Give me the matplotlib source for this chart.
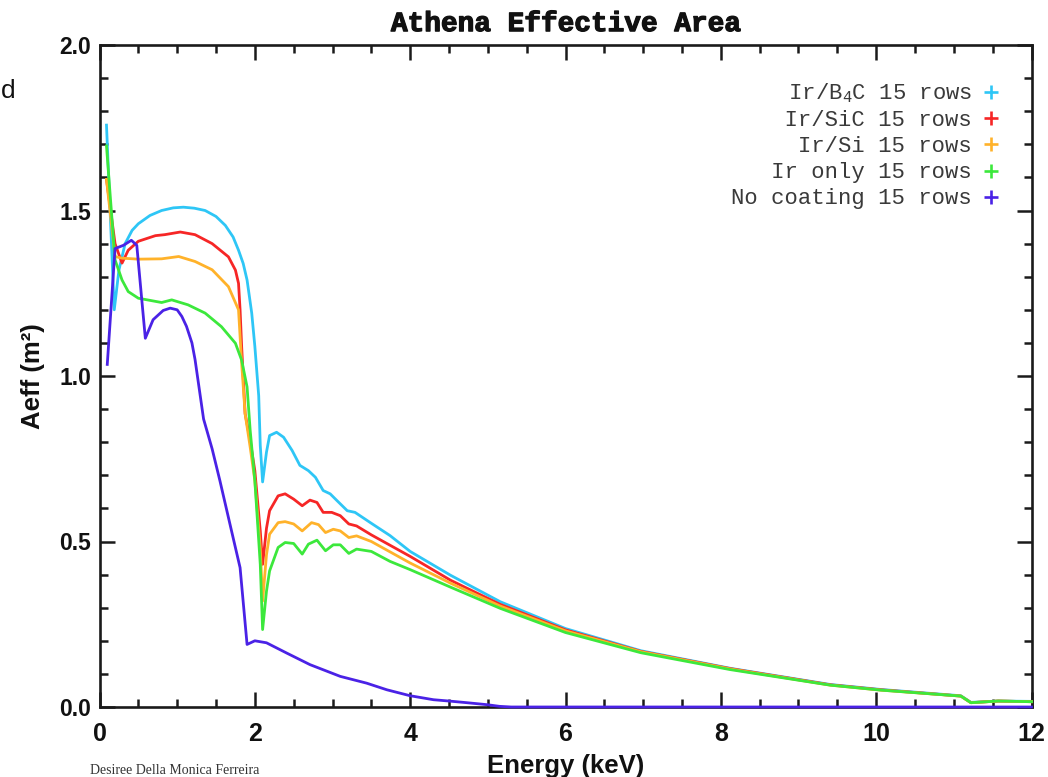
import matplotlib
matplotlib.use('Agg')
import matplotlib.pyplot as plt
import matplotlib.patheffects as pe
from matplotlib.ticker import MultipleLocator, FormatStrFormatter
from matplotlib.lines import Line2D

# ---------------- data ----------------
title = "Athena Effective Area"
xlabel = "Energy (keV)"
ylabel = "Aeff (m²)"
series_labels = ["Ir/B$_{\\mathregular{4}}$C 15 rows", "Ir/SiC 15 rows", "Ir/Si 15 rows",
                 "Ir only 15 rows", "No coating 15 rows"]
series_colors = ["#2ec6f6", "#f62626", "#ffb22a", "#3ce83c", "#4a22e6"]

e_b4c = [0.09, 0.19, 0.25, 0.33, 0.42, 0.5, 0.65, 0.8, 0.95, 1.08, 1.22, 1.36, 1.5, 1.62,
         1.72, 1.79, 1.85, 1.90, 1.96, 2.0, 2.05, 2.07, 2.10, 2.15, 2.19, 2.28, 2.37, 2.48,
         2.58, 2.69, 2.78, 2.88, 2.97, 3.06, 3.19, 3.29, 3.5, 3.74, 4.0, 4.52, 5.16, 6.0,
         6.97, 8.12, 9.41, 10.06, 11.09, 11.22, 11.57, 12.0]
a_b4c = [1.758, 1.20, 1.32, 1.40, 1.44, 1.46, 1.485, 1.50, 1.508, 1.51, 1.507, 1.50, 1.482,
         1.455, 1.42, 1.38, 1.34, 1.29, 1.19, 1.09, 0.94, 0.79, 0.68, 0.77, 0.82, 0.83, 0.815,
         0.775, 0.73, 0.714, 0.694, 0.654, 0.644, 0.623, 0.593, 0.588, 0.555, 0.518, 0.47,
         0.398, 0.318, 0.237, 0.170, 0.117, 0.068, 0.053, 0.034, 0.014, 0.018, 0.017]

e_sic = [0.09, 0.2, 0.29, 0.37, 0.5, 0.72, 0.84, 1.04, 1.23, 1.45, 1.66, 1.75, 1.79, 1.81,
         1.83, 1.875, 1.94, 2.0, 2.07, 2.10, 2.15, 2.19, 2.30, 2.39, 2.50, 2.61, 2.71, 2.80,
         2.88, 2.99, 3.10, 3.21, 3.31, 3.5, 4.0, 4.52, 5.16, 6.0, 6.97, 8.12, 9.41, 10.06,
         11.09, 11.22, 11.57, 12.0]
a_sic = [1.594, 1.40, 1.341, 1.38, 1.407, 1.424, 1.427, 1.435, 1.427, 1.40, 1.36, 1.32, 1.28,
         1.20, 1.09, 0.886, 0.805, 0.714, 0.532, 0.431, 0.54, 0.593, 0.638, 0.644, 0.628,
         0.608, 0.625, 0.618, 0.588, 0.588, 0.578, 0.553, 0.547, 0.52, 0.455, 0.383, 0.31,
         0.233, 0.168, 0.116, 0.067, 0.052, 0.033, 0.013, 0.018, 0.016]

e_si = [0.09, 0.2, 0.29, 0.5, 0.8, 1.02, 1.23, 1.45, 1.66, 1.79, 1.83, 1.875, 1.94, 2.0,
        2.07, 2.10, 2.15, 2.19, 2.30, 2.39, 2.50, 2.61, 2.73, 2.82, 2.91, 3.01, 3.10, 3.21,
        3.31, 3.5, 4.0, 4.52, 5.16, 6.0, 6.97, 8.12, 9.41, 10.06, 11.09, 11.22, 11.57, 12.0]
a_si = [1.594, 1.361, 1.356, 1.353, 1.354, 1.361, 1.346, 1.321, 1.27, 1.20, 1.04, 0.886,
        0.785, 0.684, 0.48, 0.32, 0.46, 0.522, 0.557, 0.56, 0.553, 0.532, 0.557, 0.551,
        0.527, 0.537, 0.532, 0.512, 0.517, 0.50, 0.435, 0.374, 0.305, 0.23, 0.167, 0.115,
        0.066, 0.051, 0.033, 0.013, 0.018, 0.016]

e_ir = [0.09, 0.2, 0.29, 0.37, 0.5, 0.8, 0.93, 1.14, 1.36, 1.57, 1.75, 1.83, 1.90, 1.94,
        2.0, 2.07, 2.10, 2.15, 2.19, 2.30, 2.39, 2.50, 2.61, 2.69, 2.80, 2.91, 3.01, 3.10,
        3.21, 3.31, 3.5, 3.74, 4.0, 4.52, 5.16, 6.0, 6.97, 8.12, 9.41, 10.06, 11.09, 11.22,
        11.57, 12.0]
a_ir = [1.695, 1.351, 1.29, 1.255, 1.235, 1.222, 1.23, 1.215, 1.19, 1.149, 1.099, 1.048,
        0.967, 0.836, 0.684, 0.431, 0.234, 0.35, 0.411, 0.482, 0.497, 0.494, 0.462, 0.492,
        0.504, 0.472, 0.49, 0.49, 0.464, 0.477, 0.47, 0.44, 0.415, 0.362, 0.298, 0.225,
        0.164, 0.113, 0.066, 0.051, 0.033, 0.013, 0.018, 0.016]

e_none = [0.1, 0.2, 0.31, 0.41, 0.48, 0.59, 0.69, 0.82, 0.91, 1.0, 1.06, 1.12, 1.19, 1.23,
          1.34, 1.45, 1.55, 1.70, 1.81, 1.90, 2.0, 2.15, 2.41, 2.71, 3.10, 3.44, 3.70, 4.0,
          4.30, 4.5, 4.73, 4.99, 5.15, 5.3, 12.0]
a_none = [1.035, 1.385, 1.395, 1.41, 1.395, 1.114, 1.17, 1.198, 1.205, 1.20, 1.18, 1.15,
          1.10, 1.05, 0.87, 0.78, 0.684, 0.532, 0.421, 0.189, 0.2, 0.194, 0.163, 0.128,
          0.0925, 0.072, 0.052, 0.034, 0.022, 0.018, 0.013, 0.007, 0.002, 0.0, 0.0]

x_ticks = [0, 2, 4, 6, 8, 10, 12]
y_ticks = [0.0, 0.5, 1.0, 1.5, 2.0]

# ---------------- figure ----------------
W, H = 1048, 777
fig = plt.figure(figsize=(W / 100, H / 100), dpi=100)
ax = fig.add_axes([99.5 / W, 1 - 707 / H, (1031.5 - 99.5) / W, (707 - 45) / H])

energies = [e_b4c, e_sic, e_si, e_ir, e_none]
areas = [a_b4c, a_sic, a_si, a_ir, a_none]
draw_order = [0, 1, 3, 2, 4]
for i in draw_order:
    ax.plot(energies[i], areas[i], color=series_colors[i], lw=2.0, zorder=3 + i * 0.1,
            clip_on=False, solid_joinstyle='round')

ax.set_xlim(x_ticks[0], x_ticks[-1])
ax.set_ylim(y_ticks[0], y_ticks[-1])
ax.set_xticks(x_ticks)
ax.set_yticks(y_ticks)
ax.xaxis.set_minor_locator(MultipleLocator(0.5))
ax.yaxis.set_minor_locator(MultipleLocator(0.1))
ax.yaxis.set_major_formatter(FormatStrFormatter('%.1f'))
ax.xaxis.set_major_formatter(FormatStrFormatter('%d'))

for s in ax.spines.values():
    s.set_linewidth(1.9)
    s.set_color('#1a1a1a')
    s.set_zorder(2.5)

ax.tick_params(which='both', direction='in', top=True, right=True, color='#1a1a1a')
ax.tick_params(which='major', length=11, width=1.8)
ax.tick_params(which='minor', length=5.5, width=1.8)
ax.tick_params(axis='x', which='major', pad=10.5)
ax.tick_params(axis='y', which='major', pad=6)
for lab in ax.get_xticklabels():
    lab.set_fontfamily('Liberation Sans')
    lab.set_fontweight('bold')
    lab.set_fontsize(18)
    lab.set_color('#111111')
for lab in ax.get_yticklabels():
    lab.set_fontfamily('Liberation Sans')
    lab.set_fontweight('bold')
    lab.set_fontsize(16.5)
    lab.set_color('#111111')

t = ax.set_title(title, family='Liberation Mono', fontweight='bold', fontsize=20,
                 color='#111111', pad=10)
t.set_path_effects([pe.withStroke(linewidth=0.9, foreground='#111111')])
ax.set_xlabel(xlabel, family='Liberation Sans', fontweight='bold', fontsize=18.5,
              color='#111111', labelpad=6)
ax.set_ylabel(ylabel, family='Liberation Sans', fontweight='bold', fontsize=18.5,
              color='#111111', labelpad=10)

# legend: right-aligned monospace labels with '+' markers on the right
maxlen = max(len(l.replace("$_{\\mathregular{4}}$", "4")) for l in series_labels)
padded = [l.rjust(maxlen + (len(l) - len(l.replace("$_{\\mathregular{4}}$", "4"))))
          for l in series_labels]
handles = [Line2D([], [], ls='none', marker='+', markersize=10, mew=1.9, color=c)
           for c in series_colors]
leg = ax.legend(handles, padded, loc='upper right', bbox_to_anchor=(0.966, 0.945),
                frameon=False, markerfirst=False, handlelength=0.8, handletextpad=0.45,
                borderpad=0, borderaxespad=0, labelspacing=0.23,
                prop={'family': 'Liberation Mono', 'size': 16})
for tx in leg.get_texts():
    tx.set_color('#3a3a3a')

# stray slide text (left edge) and author credit
fig.text(0.5 / W, 1 - 91 / H, 'd', ha='left', va='center', fontsize=19,
         family='Liberation Sans', color='#111111')
fig.text(90 / W, 1 - 771 / H, 'Desiree Della Monica Ferreira', ha='left', va='center',
         fontsize=10, family='Liberation Serif', color='#333333')

fig.savefig('out.png', dpi=100)
